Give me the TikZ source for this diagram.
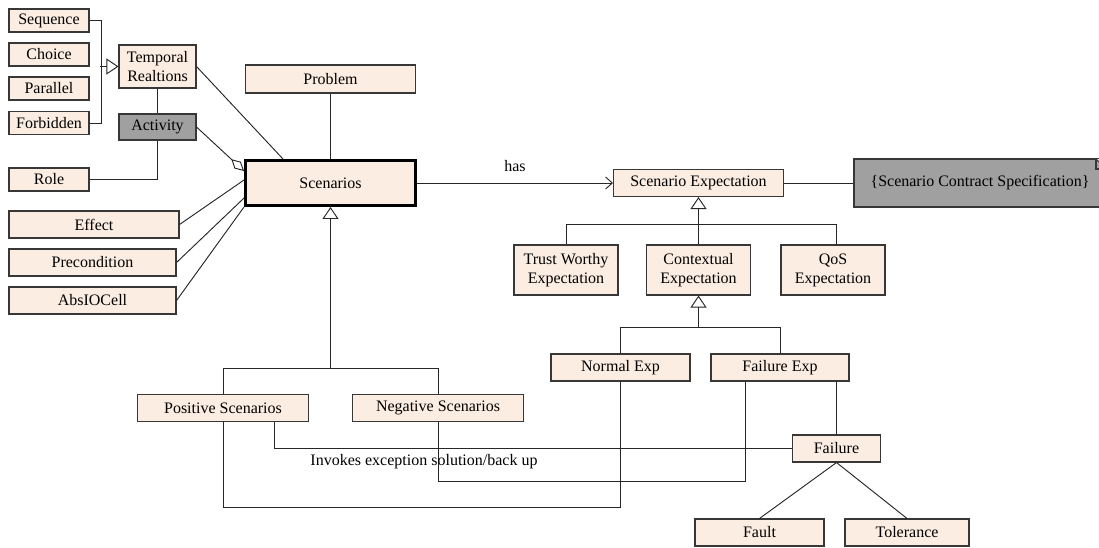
\documentclass[tikz,border=0pt]{standalone}
\usepackage{fontspec}
\setmainfont{Liberation Serif}
\newfontfamily\diagfont{Liberation Serif}
\usetikzlibrary{arrows.meta,calc}
\definecolor{peach}{RGB}{252,237,226}
\definecolor{boxgray}{RGB}{160,160,160}
\definecolor{edge}{RGB}{55,55,55}
\tikzset{
  box/.style 2 args={draw=edge, line width=0.8pt, fill=peach, inner sep=0pt,
    minimum width=#1*0.75pt, minimum height=#2*0.75pt, align=center,
    font=\diagfont\fontsize{12}{14.4}\selectfont},
  conn/.style={draw=black!85, line width=0.7pt},
  gen/.style={conn, -{Triangle[fill=white, length=9pt, width=12pt, line width=0.7pt]}},
  agg/.style={conn, -{Diamond[fill=white, length=13pt, width=7pt, line width=0.7pt]}},
  nav/.style={conn, -{Straight Barb[length=5pt, width=9pt, line width=0.7pt]}},
  lbl/.style={font=\diagfont\fontsize{12}{14.4}\selectfont, inner sep=0pt}
}
\begin{document}
\begin{tikzpicture}[x=0.75pt, y=-0.75pt]
\useasboundingbox (0,0) rectangle (1099,547);
% left column
\node[box={80}{23}] (seq) at (49,20.5) {Sequence};
\node[box={80}{23}] (cho) at (49,54.5) {Choice};
\node[box={80}{23}] (par) at (49,88.5) {Parallel};
\node[box={80}{23}] (forb) at (49,123) {Forbidden};
\node[box={77}{43}] (temp) at (157.5,66.5) {Temporal\\Realtions};
\node[box={77}{26}, fill=boxgray] (act) at (157.5,127) {Activity};
\node[box={80}{23}] (role) at (49,179.5) {Role};
\node[box={170}{27}] (eff) at (94,224.5) {Effect};
\node[box={167}{27}] (prec) at (92.5,262.5) {Precondition};
\node[box={167}{27}] (abs) at (92.5,300.5) {AbsIOCell};
% center
\node[box={170}{28}] (prob) at (330.5,79) {Problem};
\node[box={170}{45}, line width=2.2pt, draw=black] (scen) at (330.5,183) {Scenarios};
\node[box={171}{27}] (pos) at (223,408) {Positive Scenarios};
\node[box={171}{27}] (neg) at (438,408) {Negative Scenarios};
% right
\node[box={170}{27}] (se) at (698.5,183) {Scenario Expectation};
\node[box={252}{48}, fill=boxgray] (note) at (980,183) {\{Scenario Contract Specification\}};
\fill[white] (1096,159) -- (1107,159) -- (1107,170) -- cycle;
\draw[draw=edge, line width=0.8pt] (1096,159) -- (1096,169) -- (1106,169);
\draw[draw=edge, line width=0.8pt] (1096,159) -- (1106,169);
\node[box={104}{50}] (trust) at (566,270) {Trust Worthy\\Expectation};
\node[box={104}{50}] (ctx) at (698.5,270) {Contextual\\Expectation};
\node[box={104}{50}] (qos) at (833,270) {QoS\\Expectation};
\node[box={139}{27}] (normal) at (620.5,367.5) {Normal Exp};
\node[box={138}{27}] (fexp) at (780,367.5) {Failure Exp};
\node[box={88}{27}] (fail) at (836.5,448.5) {Failure};
\node[box={129}{27}] (fault) at (759.5,532.5) {Fault};
\node[box={124}{27}] (tol) at (907,532.5) {Tolerance};
% helper coordinates
\coordinate (barA) at (0,224);
\coordinate (barB) at (0,327);
\coordinate (barC) at (0,368.5);
\coordinate (loopP) at (0,507.5);
\coordinate (qtop) at (836,245);
% temporal relations
\draw[conn] (seq.east) -- ++(12,0) |- (forb.east);
\draw[gen] (100,66.5) -- (temp.west);
\draw[conn] (temp.south) -- (act.north);
\draw[conn] (act.south) |- (role.east);
\draw[conn] (temp.east) -- ($(scen.north west)+(39,0)$);
\draw[agg] (act.east) -- ($(scen.west)+(0,-12)$);
\draw[conn] (eff.east) -- ($(scen.west)+(0,-3)$);
\draw[conn] (prec.east) -- ($(scen.west)+(0,15)$);
\draw[conn] (abs.east) -- (scen.south west);
\draw[conn] (prob.south) -- (scen.north);
% has
\draw[nav] (scen.east) -- node[lbl, above=8pt] {has} (se.west);
\draw[conn] (se.east) -- (note.west);
% expectation generalization
\draw[conn] (trust.north) |- (barA -| qtop) -- (qtop);
\draw[gen] (ctx.north) -- (se.south);
\draw[conn] (normal.north) |- (barB -| fexp.north) -- (fexp.north);
\draw[gen] (ctx.south |- barB) -- (ctx.south);
% scenarios generalization
\draw[conn] (pos.north) |- (barC -| neg.north) -- (neg.north);
\draw[gen] (scen.south |- barC) -- (scen.south);
% cross links
\draw[conn] (normal.south) -- (normal.south |- loopP) -| (pos.south);
\draw[conn] ($(fexp.south west)+(35,0)$) -- ++(0,100) -| (neg.south);
\draw[conn] (fail.north |- fexp.south) -- (fail.north);
\draw[conn] (fail.west) -| ($(pos.south east)+(-34.5,0)$);
\node[lbl] (inv) at (424,462) {Invokes exception solution/back up};
\draw[conn] (fail.south) -- (fault.north);
\draw[conn] (fail.south) -- (tol.north);
\end{tikzpicture}
\end{document}
